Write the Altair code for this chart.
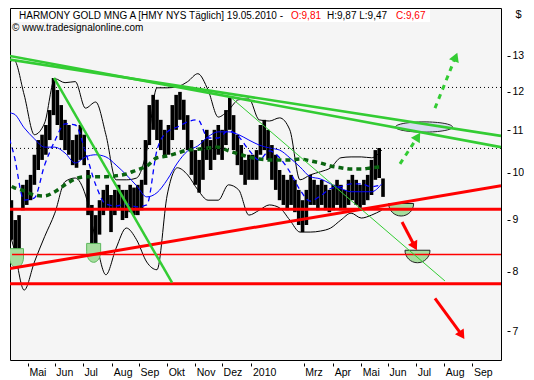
import altair as alt
import pandas as pd

FONT = "Liberation Sans"

# ---------------- calendar / axis ----------------
cal = pd.bdate_range("2009-04-06", "2010-10-29")


def tix(d):
    return int(cal.get_loc(pd.Timestamp(d)))


tick_dates = ["2009-05-01", "2009-06-01", "2009-07-01", "2009-08-03", "2009-09-01",
              "2009-10-01", "2009-11-02", "2009-12-01", "2010-01-01", "2010-03-01",
              "2010-04-01", "2010-05-03", "2010-06-01", "2010-07-01", "2010-08-02",
              "2010-09-01"]
tick_labels = ["Mai", "Jun", "Jul", "Aug", "Sep", "Okt", "Nov", "Dez", "2010", "Mrz",
               "Apr", "Mai", "Jun", "Jul", "Aug", "Sep"]
tick_vals = [tix(d) for d in tick_dates]
price_ticks = [7, 8, 9, 10, 11, 12, 13]

# ---------------- price bars (every 3 trading days) ----------------
highs = [9.73, 9.58, 9.40, 8.99, 9.09, 9.73, 9.84, 9.95, 10.41, 10.76,
         10.89, 11.13, 11.51, 12.37, 12.04, 11.64, 11.26, 11.13, 10.76, 10.89,
         11.13, 10.89, 10.06, 9.30, 9.09, 9.40, 9.62, 9.73, 9.51, 9.62,
         9.73, 9.62, 9.62, 9.73, 9.67, 9.73, 9.84, 10.76, 11.64, 11.91,
         11.78, 11.26, 11.01, 11.13, 11.64, 11.91, 11.99, 11.78, 11.38, 10.76,
         10.52, 10.29, 10.76, 11.01, 10.76, 11.01, 11.13, 11.01, 11.51, 11.83,
         11.38, 10.89, 10.64, 10.29, 10.41, 10.41, 10.52, 11.13, 11.26, 11.01,
         10.64, 10.41, 10.06, 9.95, 9.84, 9.95, 9.84, 9.62, 9.40, 9.62,
         9.95, 9.84, 9.73, 9.84, 9.73, 9.62, 9.73, 9.84, 9.73, 9.62,
         9.84, 9.95, 9.84, 9.73, 9.84, 9.95, 10.29, 10.52, 10.57, 9.87]
lows = [9.15, 9.09, 8.60, 8.18, 8.40, 9.19, 9.30, 9.40, 9.73, 10.06,
        10.29, 10.41, 10.76, 11.38, 11.13, 10.76, 10.52, 10.41, 10.17, 10.11,
        10.29, 10.17, 9.09, 8.50, 8.37, 8.70, 9.09, 9.19, 8.75, 9.09,
        9.19, 8.99, 9.03, 9.15, 9.09, 9.09, 9.19, 9.73, 10.64, 11.01,
        10.76, 10.52, 10.34, 10.41, 10.76, 11.01, 11.26, 11.01, 10.52, 9.95,
        9.73, 9.56, 9.84, 10.29, 10.06, 10.29, 10.41, 10.29, 10.64, 11.01,
        10.52, 10.17, 9.95, 9.73, 9.84, 9.84, 9.84, 10.41, 10.52, 10.29,
        9.84, 9.62, 9.40, 9.30, 9.19, 9.30, 9.15, 8.89, 8.75, 8.89,
        9.30, 9.30, 9.19, 9.30, 9.19, 9.15, 9.19, 9.30, 9.19, 9.19,
        9.30, 9.40, 9.30, 9.24, 9.30, 9.40, 9.51, 9.84, 9.88, 9.47]
bar_idx = [3 * k for k in range(len(highs))]

# ---------------- indicators (every 8 trading days) ----------------
ma_long = [9.79, 9.67, 9.60, 9.51, 9.49, 9.58, 9.73, 9.86, 9.91, 9.91,
           9.91, 9.93, 9.97, 10.06, 10.15, 10.34, 10.38, 10.45, 10.52, 10.54,
           10.57, 10.59, 10.50, 10.43, 10.36, 10.31, 10.29, 10.29, 10.29, 10.31,
           10.27, 10.22, 10.15, 10.11, 10.08, 10.08, 10.11, 10.13]
ma_mid = [11.46, 11.41, 11.06, 10.79, 10.59, 10.59, 10.45, 10.22, 10.36, 10.41,
          10.36, 10.17, 9.95, 9.71, 9.47, 9.56, 9.84, 10.22, 10.50, 10.62,
          10.84, 10.96, 10.96, 10.89, 10.76, 10.64, 10.57, 10.52, 10.34, 10.13,
          9.91, 9.86, 9.75, 9.65, 9.58, 9.58, 9.58, 9.75]
ma_fast = [11.21, 10.41, 9.40, 9.45, 10.17, 10.74, 11.16, 11.13, 10.48, 9.73,
           9.32, 9.28, 9.32, 9.26, 9.30, 10.52, 10.96, 11.08, 11.21, 11.26,
           10.81, 10.81, 10.99, 10.84, 10.52, 10.29, 10.50, 10.34, 10.02, 9.62,
           9.38, 9.49, 9.65, 9.69, 9.75, 9.75, 9.69, 9.73]
bb_upper = [12.60, 12.88, 11.91, 10.89, 11.18, 12.35, 12.24, 12.27, 11.56, 11.72,
            10.89, 9.84, 9.84, 9.88, 10.52, 12.10, 12.10, 12.13, 12.27, 12.49,
            12.04, 11.33, 11.51, 11.78, 11.80, 11.26, 11.23, 11.31, 11.01, 9.84,
            9.95, 10.02, 10.11, 10.34, 10.36, 10.36, 10.34, 10.52]
bb_lower = [9.09, 8.44, 7.68, 8.18, 8.66, 9.13, 9.80, 9.88, 9.51, 8.60,
            7.95, 8.44, 8.83, 8.60, 8.18, 8.04, 9.51, 10.11, 9.95, 9.62,
            9.40, 9.40, 9.73, 9.62, 9.09, 9.19, 9.30, 9.24, 8.99, 8.75,
            8.75, 8.77, 8.83, 8.99, 9.13, 9.03, 9.09, 9.19]
ind_idx = [8 * k for k in range(len(ma_long))]

# ---------------- drawn objects (trading-day index, price) ----------------
red_levels_thick = [9.21, 7.79]
red_level_thin = [(6.5, 389.4, 8.32)]
red_rising = [(4.9, 8.06, 389.4, 9.71)]
green_thick = [(0.2, 13.03, 389.4, 10.59), (0.2, 12.92, 389.4, 10.86)]
green_steep = [(39.4, 12.37, 131.8, 7.81)]
green_thin = [(177.2, 11.86, 345.5, 7.84)]
dotted_levels = [12.11, 10.56]
green_arrows = [(310.3, 10.20, 323.6, 10.81), (337.7, 11.56, 353.4, 12.93)]
red_arrows = [(311.9, 8.95, 321.3, 8.50), (337.7, 7.54, 358.1, 6.96)]
ellipse_pt = [(329.1, 11.08)]
bowls_small = [(10.0, 8.43), (70.4, 8.53)]
bowls_big = [(311.2, 9.33), (324.0, 8.40)]

X_DOMAIN = [4.9, 389.4]
Y_DOMAIN = [6.564, 14.477]

label_expr = "''"
for v, l in reversed(list(zip(tick_vals, tick_labels))):
    label_expr = f"datum.value == {v} ? '{l}' : ({label_expr})"

x_axis = alt.Axis(values=tick_vals, labelExpr=label_expr, orient="bottom", offset=3,
                  tickSize=3, labelPadding=1, domain=False, grid=False,
                  labelAlign="left", labelOffset=1, labelFont=FONT, labelFontSize=10.5,
                  labelColor="black", tickColor="black", title=None,
                  labelFlush=False, labelOverlap=False, labelBound=False)
y_axis = alt.Axis(orient="right", values=price_ticks, format="d", offset=6, tickSize=3,
                  labelPadding=2, domain=False, grid=False, title="$", titleAngle=0,
                  titleX=8, titleY=0, titleAlign="left", titleBaseline="top",
                  titleFont=FONT, titleFontSize=11, titleFontWeight="normal",
                  labelFont=FONT, labelFontSize=10.5, labelColor="black",
                  tickColor="black", labelFlush=False)
XS = alt.Scale(domain=X_DOMAIN, nice=False, zero=False)
YS = alt.Scale(type="log", domain=Y_DOMAIN, nice=False, zero=False)


def xs(f):
    return alt.X(f, type="quantitative", scale=XS, axis=x_axis)


def ys(f):
    return alt.Y(f, type="quantitative", scale=YS, axis=y_axis)


def seg_df(rows):
    return pd.DataFrame(rows, columns=["i", "p", "i2", "p2"])


layers = []

# header background
hdr = pd.DataFrame({"a": [0]})
layers.append(alt.Chart(hdr).mark_rect(color="white").encode(
    x=alt.value(1), x2=alt.value(420), y=alt.value(1), y2=alt.value(14)))

# candles
bars = pd.DataFrame({"i": bar_idx, "p": lows, "p2": highs})
layers.append(alt.Chart(bars).mark_rule(color="black", strokeWidth=3.6, clip=True)
              .encode(x=xs("i"), y=ys("p"), y2="p2"))

ind = pd.DataFrame({"i": ind_idx, "ma_long": ma_long, "ma_mid": ma_mid,
                    "ma_fast": ma_fast, "bb_upper": bb_upper, "bb_lower": bb_lower})
for col, kw in [("bb_upper", dict(color="black", strokeWidth=1)),
                ("bb_lower", dict(color="black", strokeWidth=1)),
                ("ma_mid", dict(color="#0000ff", strokeWidth=1)),
                ("ma_fast", dict(color="#0000ff", strokeWidth=1.3, strokeDash=[5, 4])),
                ("ma_long", dict(color="#0a6410", strokeWidth=3.5, strokeDash=[5, 4]))]:
    layers.append(alt.Chart(ind).mark_line(interpolate="monotone", clip=True, **kw)
                  .encode(x=xs("i"), y=ys(col)))

# dotted resistance levels
layers.append(alt.Chart(pd.DataFrame({"p": dotted_levels}))
              .mark_rule(color="black", strokeWidth=1, strokeDash=[1, 3])
              .encode(y=ys("p")))

# bowls (green half circles)
bs = pd.DataFrame(bowls_small, columns=["i", "p"])
layers.append(alt.Chart(bs).mark_point(
    shape="M -1 0 L -1 1.2 A 1 1.5 0 0 0 1 1.2 L 1 0 Z", size=196, filled=True,
    fill="#a6dd9e", stroke="#5cb85c", strokeWidth=1, opacity=1, clip=True)
    .encode(x=xs("i"), y=ys("p")))
bb = pd.DataFrame(bowls_big, columns=["i", "p"])
layers.append(alt.Chart(bb).mark_point(
    shape="M -1 0 A 1 1 0 0 0 1 0 Z", size=625, filled=True,
    fill="#a6dd9e", stroke="#222222", strokeWidth=1, opacity=1)
    .encode(x=xs("i"), y=ys("p")))

# ellipse target zone
el = pd.DataFrame(ellipse_pt, columns=["i", "p"])
layers.append(alt.Chart(el).mark_point(
    shape="M -1 0 A 1 0.18 0 1 1 1 0 A 1 0.18 0 1 1 -1 0 Z", size=3249, filled=True,
    fill="#d9dcf0", stroke="#222222", strokeWidth=1, opacity=1)
    .encode(x=xs("i"), y=ys("p")))

# red levels
layers.append(alt.Chart(pd.DataFrame({"p": red_levels_thick}))
              .mark_rule(color="#ff0000", strokeWidth=3).encode(y=ys("p")))
rl = pd.DataFrame(red_level_thin, columns=["i", "i2", "p"])
layers.append(alt.Chart(rl).mark_rule(color="#ff0000", strokeWidth=1.5, clip=True)
              .encode(x=xs("i"), x2="i2", y=ys("p")))
layers.append(alt.Chart(seg_df(red_rising)).mark_rule(color="#ff0000", strokeWidth=3, clip=True)
              .encode(x=xs("i"), x2="i2", y=ys("p"), y2="p2"))

# green trend lines
layers.append(alt.Chart(seg_df(green_thick)).mark_rule(color="#33cc33", strokeWidth=2.6, clip=True)
              .encode(x=xs("i"), x2="i2", y=ys("p"), y2="p2"))
layers.append(alt.Chart(seg_df(green_steep)).mark_rule(color="#33cc33", strokeWidth=2.5, clip=True)
              .encode(x=xs("i"), x2="i2", y=ys("p"), y2="p2"))
layers.append(alt.Chart(seg_df(green_thin)).mark_rule(color="#33cc33", strokeWidth=1, clip=True)
              .encode(x=xs("i"), x2="i2", y=ys("p"), y2="p2"))

# arrows
layers.append(alt.Chart(seg_df(green_arrows)).mark_rule(color="#33cc33", strokeWidth=3,
                                                        strokeDash=[5, 5])
              .encode(x=xs("i"), x2="i2", y=ys("p"), y2="p2"))
layers.append(alt.Chart(seg_df(red_arrows)).mark_rule(color="#ff0000", strokeWidth=3)
              .encode(x=xs("i"), x2="i2", y=ys("p"), y2="p2"))
for rows, ang, col in [(green_arrows[:1], 32, "#33cc33"), (green_arrows[1:], 22, "#33cc33"),
                       (red_arrows[:1], 152, "#ff0000"), (red_arrows[1:], 146, "#ff0000")]:
    layers.append(alt.Chart(seg_df(rows)).mark_point(shape="triangle", angle=ang, size=110,
                                                     filled=True, color=col, opacity=1)
                  .encode(x=xs("i2"), y=ys("p2")))

# header texts
txt = dict(font=FONT, fontSize=10, align="left", baseline="middle")
for s, xpos, col in [("HARMONY GOLD MNG A [HMY NYS  Täglich] 19.05.2010 -", 9, "black"),
                     ("O:9,81", 281, "#ff0000"), ("H:9,87 L:9,47", 317, "black"),
                     ("C:9,67", 386, "#ff0000")]:
    layers.append(alt.Chart(hdr).mark_text(text=s, color=col, **txt)
                  .encode(x=alt.value(xpos), y=alt.value(7.5)))
layers.append(alt.Chart(hdr).mark_text(text="© www.tradesignalonline.com", color="black", **txt)
              .encode(x=alt.value(2), y=alt.value(20)))

chart = alt.layer(*layers).properties(width=491, height=352, padding=0,
                                      background="white").configure_view(
    stroke="black", strokeWidth=1, fill="#f5f5f5")

chart.save("out.html", embed_options={"renderer": "svg", "actions": False})
